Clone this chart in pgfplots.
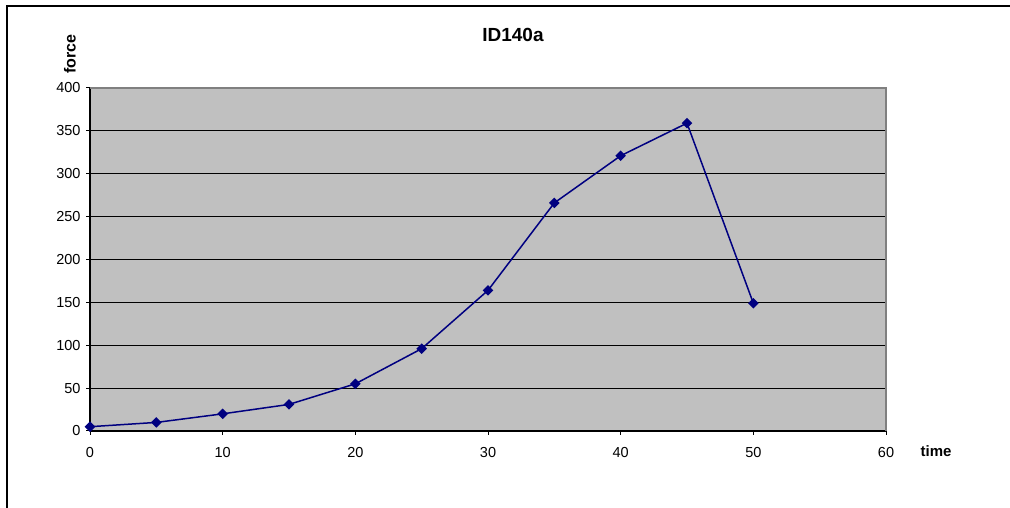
\documentclass[border=0pt]{standalone}
\usepackage{fontspec}
\setmainfont{Liberation Sans}
\usepackage{pgfplots}
\pgfplotsset{compat=1.18}
\definecolor{plotgray}{HTML}{C0C0C0}
\definecolor{navy}{HTML}{000080}
\begin{document}
\begin{tikzpicture}[x=1pt,y=1pt]
\useasboundingbox (0pt,0pt) rectangle (1010pt,508pt);
\draw[line width=2pt,black] (7pt,0pt) -- (7pt,502pt) -- (1012pt,502pt);
\begin{axis}[
  at={(90pt,77pt)}, anchor=south west,
  scale only axis, width=796pt, height=343pt,
  xmin=0, xmax=60, ymin=0, ymax=400,
  xtick={0,10,...,60}, ytick={0,50,...,400},
  axis background/.style={fill=plotgray},
  axis x line*=bottom, axis y line*=left,
  axis line style={line width=1.2pt,black,-},
  ymajorgrids, grid style={black,line width=1pt},
  tick align=outside, major tick length=4pt,
  tick style={black,line width=1pt},
  /pgf/number format/assume math mode=true,
  ticklabel style={font=\fontsize{14.5}{16}\selectfont},
  yticklabel style={xshift=-2pt},
  xticklabel style={yshift=-9pt},
  clip=false,
]
\draw[line width=1.2pt,gray] (rel axis cs:0,1) -- (rel axis cs:1,1) -- (rel axis cs:1,0);
\addplot[navy, line width=1.5pt, mark=square*, mark size=3pt, mark options={fill=navy, rotate=45, solid}]
coordinates {(0,5) (5,10) (10,20) (15,31) (20,55) (25,96) (30,164) (35,266) (40,321) (45,359) (50,149)};
\end{axis}
\node[font=\bfseries\fontsize{19}{21}\selectfont] at (513pt,473pt) {ID140a};
\node[font=\bfseries\fontsize{16}{18}\selectfont, rotate=90] at (70pt,454pt) {force};
\node[font=\bfseries\fontsize{15}{17}\selectfont] at (936pt,57pt) {time};
\end{tikzpicture}
\end{document}
